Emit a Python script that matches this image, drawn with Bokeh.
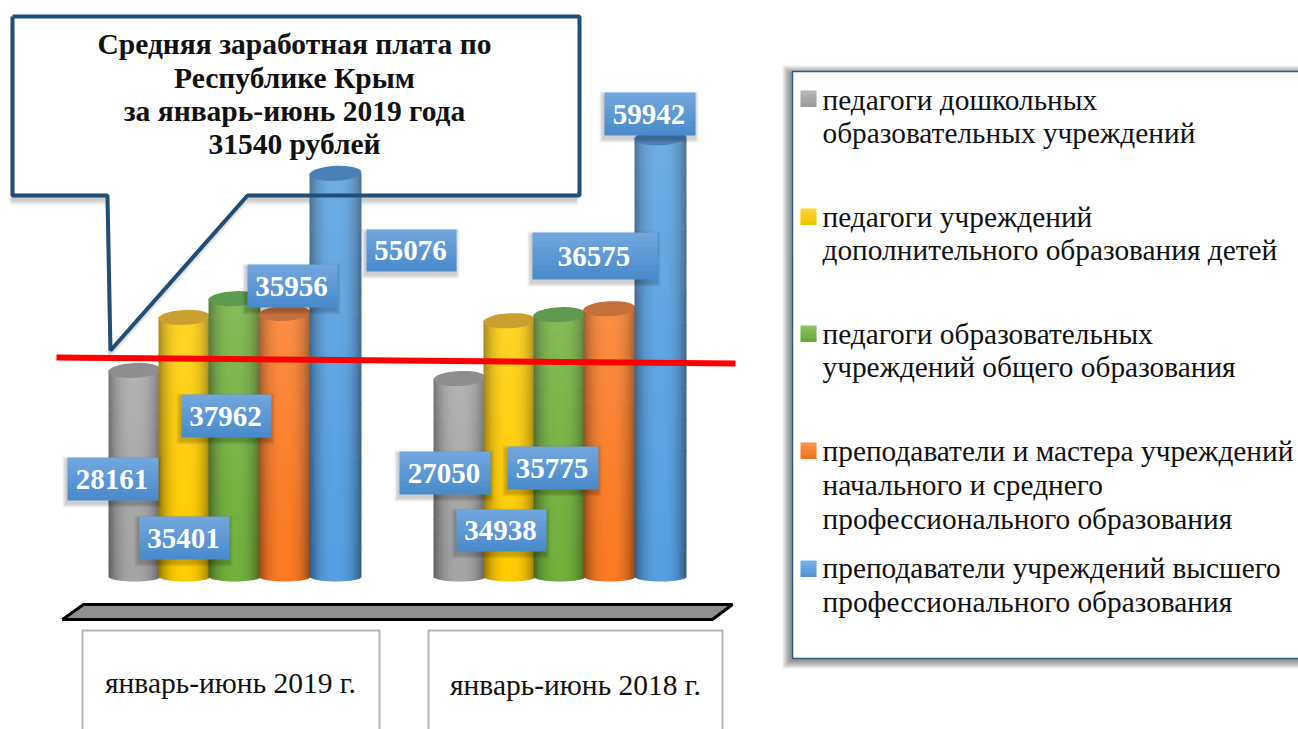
from bokeh.plotting import figure
from bokeh.models import Range1d
from bokeh.core.properties import value
from bokeh.embed import file_html
from bokeh.resources import INLINE
import math

periods = ["январь-июнь 2019 г.", "январь-июнь 2018 г."]
values_2019 = [28161, 35401, 37962, 35956, 55076]
values_2018 = [27050, 34938, 35775, 36575, 59942]
legend_lines = [
    ["педагоги дошкольных", "образовательных учреждений"],
    ["педагоги учреждений", "дополнительного образования детей"],
    ["педагоги образовательных", "учреждений общего образования"],
    ["преподаватели и мастера учреждений", "начального и среднего", "профессионального образования"],
    ["преподаватели учреждений высшего", "профессионального образования"],
]
title_lines = ["Средняя заработная плата по", "Республике Крым", "за январь-июнь 2019 года", "31540 рублей"]
series_colors = ["#a4a4a4", "#ffcc00", "#70b03c", "#fb7a22", "#559fe0"]
cap_colors = ["#8e8e8e", "#c9a030", "#5f9a50", "#c4703c", "#4a80b8"]

W, H = 1298, 729
BASE_PX, PX_PER_RUB = 576, 0.00732
SERIF = value("Liberation Serif")

p = figure(width=W, height=H, output_backend="svg", toolbar_location=None,
           x_range=Range1d(0, W),
           y_range=Range1d((BASE_PX - H) / PX_PER_RUB, BASE_PX / PX_PER_RUB),
           x_axis_location=None, y_axis_location=None, min_border=0)
p.grid.visible = False
p.outline_line_color = None
p.background_fill_color = "white"
p.border_fill_color = "white"
p.extra_y_ranges["page"] = Range1d(H, 0)
PAGE = dict(y_range_name="page")


def rgb(c):
    return tuple(int(c[i:i + 2], 16) for i in (1, 3, 5))


def to_hex(t):
    return "#%02x%02x%02x" % tuple(max(0, min(255, int(round(v)))) for v in t)


def shadow(l, t, r, b, dx, dy, blur, alpha):
    for i in range(blur, 0, -1):
        p.quad(left=l + dx - i, right=r + dx + i, top=t + dy - i, bottom=b + dy + i,
               fill_color="#000000", fill_alpha=alpha, line_color=None, **PAGE)


def cylinder(center, rub, color, cap):
    half, cols, rows = 26, 26, 14
    base = rgb(color)
    L, R, T, B, C = [], [], [], [], []
    for i in range(cols):
        t = (i + 0.5) / cols * 2 - 1
        x0 = center - half + i * 2 * half / cols
        shade = 0.56 + 0.44 * (1 - abs(t) ** 2.6)
        for j in range(rows):
            yt = rub * (1 - j / rows)
            yb = rub * (1 - (j + 1) / rows)
            if j == rows - 1:
                yb = -5 * math.sqrt(1 - t * t) / PX_PER_RUB
            lift = 0.15 * (1 - (j + 0.5) / rows) ** 1.2
            col = [v * shade + (255 - v * shade) * lift for v in base]
            L.append(x0)
            R.append(x0 + 2 * half / cols + (0.6 if i < cols - 1 else 0))
            T.append(yt + (0.8 / PX_PER_RUB if j else 0))
            B.append(yb)
            C.append(to_hex(col))
    p.quad(left=L, right=R, top=T, bottom=B, fill_color=C, line_color=None)
    p.ellipse(x=[center], y=[rub], width=[2 * half], height=[15], height_units="screen",
              angle=[0.05], fill_color=cap, line_color=None)


def value_box(l, t, r, b, label):
    shadow(l, t, r, b, -1, 3, 4, 0.05)
    bands = 10
    c0, c1 = rgb("#70a6dd"), rgb("#4a8bcb")
    for k in range(bands):
        f = k / (bands - 1)
        y0 = t + (b - t) * k / bands
        y1 = t + (b - t) * (k + 1) / bands + (0.6 if k < bands - 1 else 0)
        p.quad(left=l, right=r, top=y0, bottom=y1, line_color=None,
               fill_color=to_hex([a + (z - a) * f for a, z in zip(c0, c1)]), **PAGE)
    p.text(x=[(l + r) / 2 - 1], y=[(t + b) / 2], text=[label], text_color="white", text_font=SERIF,
           text_font_size="29px", text_font_style="bold", text_align="center",
           text_baseline="middle", **PAGE)


# legend panel
LEG_L, LEG_T, LEG_R, LEG_B = 792, 71, 1310, 658
shadow(LEG_L, LEG_T, LEG_R, LEG_B, -2, 2, 8, 0.06)
p.quad(left=LEG_L, right=LEG_R, top=LEG_T, bottom=LEG_B, fill_color="white",
       line_color="#2b5c88", line_width=1.5, **PAGE)
marker_tops = [90, 208, 325, 442, 560]
line_ys = [[99, 132], [216, 249], [333, 366], [450, 484, 518], [567, 601]]
for lines, ys, top, col in zip(legend_lines, line_ys, marker_tops, series_colors):
    c = rgb(col)
    for k in range(6):
        f = k / 5
        shade = [v + (255 - v) * 0.18 * (1 - f) - v * 0.05 * f for v in c]
        p.quad(left=800, right=816, top=top + k * 16 / 6, bottom=top + (k + 1) * 16 / 6 + 0.5,
               fill_color=to_hex(shade), line_color=None, **PAGE)
    p.text(x=[822] * len(lines), y=ys, text=lines, text_font=SERIF, text_font_size="29.35px",
           text_color="#111111", text_align="left", text_baseline="middle", **PAGE)

# callout: shadow and white body go under the columns
call_x = [12, 579, 579, 247, 110, 107, 12]
call_y = [16, 16, 195, 195, 350, 195, 195]
for i in range(6, 0, -1):
    p.patch(x=[v - 2 for v in call_x], y=[v + 4 + i for v in call_y], fill_color="#000000",
            fill_alpha=0.035, line_color=None, **PAGE)
p.patch(x=call_x, y=call_y, fill_color="white", line_color=None, **PAGE)

# base plate
p.patch(x=[62, 83, 732, 712], y=[619, 604, 604, 619], fill_color="#8f8f8f", line_color="#000000",
        line_width=3, **PAGE)

# columns
centers_2019 = [134, 184, 234, 284, 335]
centers_2018 = [459, 509, 559, 609, 660]
for centers, vals in ((centers_2019, values_2019), (centers_2018, values_2018)):
    for cx, v, col, cap in zip(centers, vals, series_colors, cap_colors):
        cylinder(cx, v, col, cap)

# callout outline on top of the column
p.line(x=call_x + call_x[:1], y=call_y + call_y[:1], line_color="#1f4e79", line_width=4, **PAGE)
p.text(x=[294] * 4, y=[43, 77, 110, 143], text=title_lines, text_font=SERIF, text_font_size="29.5px",
       text_font_style="bold", text_color="#111111", text_align="center", text_baseline="middle", **PAGE)

# red reference line
p.line(x=[56, 735], y=[357, 363], line_color="#ff0000", line_width=6, **PAGE)

# value boxes
boxes_2019 = [(67, 457, 158, 500), (139, 516, 229, 559), (181, 394, 271, 437), (247, 264, 337, 307), (366, 229, 456, 271)]
boxes_2018 = [(399, 451, 490, 494), (456, 509, 546, 551), (507, 446, 598, 489), (532, 232, 657, 279), (604, 92, 695, 135)]
for box, v in zip(boxes_2019 + boxes_2018, values_2019 + values_2018):
    value_box(*box, str(v))

# period boxes
for (l, r), cx, cy, label in zip([(82, 379), (428, 722)], [230, 575], [682, 684], periods):
    p.line(x=[l, l, r, r], y=[740, 630, 630, 740], line_color="#b3b3b3", line_width=2, **PAGE)
    p.text(x=[cx], y=[cy], text=[label], text_font=SERIF, text_font_size="29.5px", text_color="#111111",
           text_align="center", text_baseline="middle", **PAGE)

open("out.html", "w").write(file_html(p, INLINE))
